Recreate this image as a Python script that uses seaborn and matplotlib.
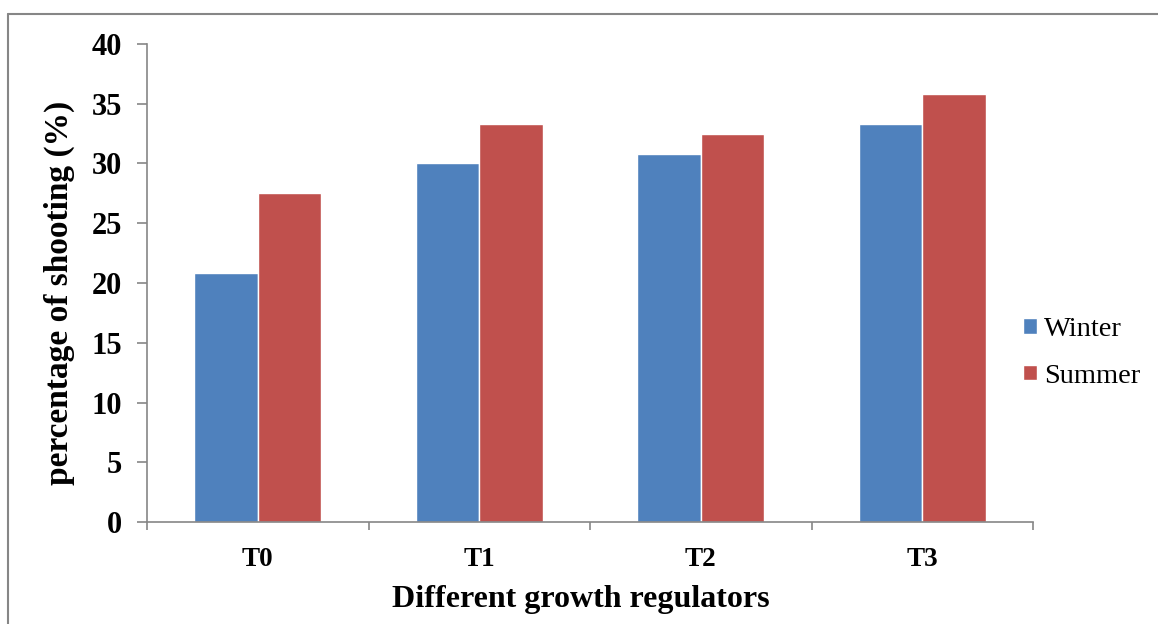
import matplotlib
matplotlib.use('Agg')
import matplotlib.pyplot as plt
import seaborn as sns
import pandas as pd
from matplotlib.lines import Line2D

# 데이터
treatments = ['T0', 'T1', 'T2', 'T3']
winter = [20.83, 30.0, 30.83, 33.33]
summer = [27.5, 33.33, 32.5, 35.83]
seasons = ['Winter', 'Summer']

df = pd.DataFrame({
    'treatment': treatments * 2,
    'season': ['Winter'] * 4 + ['Summer'] * 4,
    'value': winter + summer,
})

sns.set_style('white')
plt.rcParams['font.family'] = ['Liberation Serif', 'DejaVu Serif']
plt.rcParams['text.color'] = 'black'
plt.rcParams['axes.labelcolor'] = 'black'
plt.rcParams['xtick.labelcolor'] = 'black'
plt.rcParams['ytick.labelcolor'] = 'black'

fig = plt.figure(figsize=(11.58, 6.24), dpi=100)
ax = fig.add_axes([147 / 1158, 1 - 522 / 624, (1033 - 147) / 1158, (522 - 44) / 624])

sns.barplot(data=df, x='treatment', y='value', hue='season', hue_order=seasons,
            palette=['#4F81BD', '#C0504D'], width=0.575, gap=0, saturation=1,
            errorbar=None, ax=ax)

ax.set_ylim(0, 40)
ax.set_xlim(-0.5, 3.5)
ax.set_yticks(range(0, 41, 5))
ax.set_xticks([-0.5, 0.5, 1.5, 2.5, 3.5], minor=True)

grey = '#868686'
for s in ['top', 'right']:
    ax.spines[s].set_visible(False)
for s in ['left', 'bottom']:
    ax.spines[s].set_color(grey)
    ax.spines[s].set_linewidth(1.2)

ax.tick_params(axis='y', which='major', length=7, width=1.2, color=grey, pad=11,
               labelsize=22, left=True)
ax.tick_params(axis='x', which='major', length=0, pad=18, labelsize=19.5)
ax.tick_params(axis='x', which='minor', length=6, width=1.2, color=grey, bottom=True)
for lab in ax.get_xticklabels() + ax.get_yticklabels():
    lab.set_fontweight('bold')

ax.set_xlabel('Different growth regulators', fontsize=23, fontweight='bold', labelpad=9)
ax.set_ylabel('percentage of shooting (%)', fontsize=24, fontweight='bold', labelpad=12)
ax.xaxis.label.set_x(0.49)
ax.yaxis.label.set_y(0.48)

ax.legend(loc='center left', bbox_to_anchor=(1009 / 1158, 1 - 353 / 624),
          bbox_transform=fig.transFigure, frameon=False, fontsize=20.5, borderpad=0,
          handlelength=0.48, handleheight=0.48, handletextpad=0.25, labelspacing=0.75)

# 바깥 테두리
fig.add_artist(Line2D([8 / 1158, 8 / 1158], [0, 1 - 14 / 624], transform=fig.transFigure,
                      color=grey, lw=1.5))
fig.add_artist(Line2D([8 / 1158, 1], [1 - 14 / 624, 1 - 14 / 624], transform=fig.transFigure,
                      color=grey, lw=1.5))

fig.savefig('out.png', dpi=100)
